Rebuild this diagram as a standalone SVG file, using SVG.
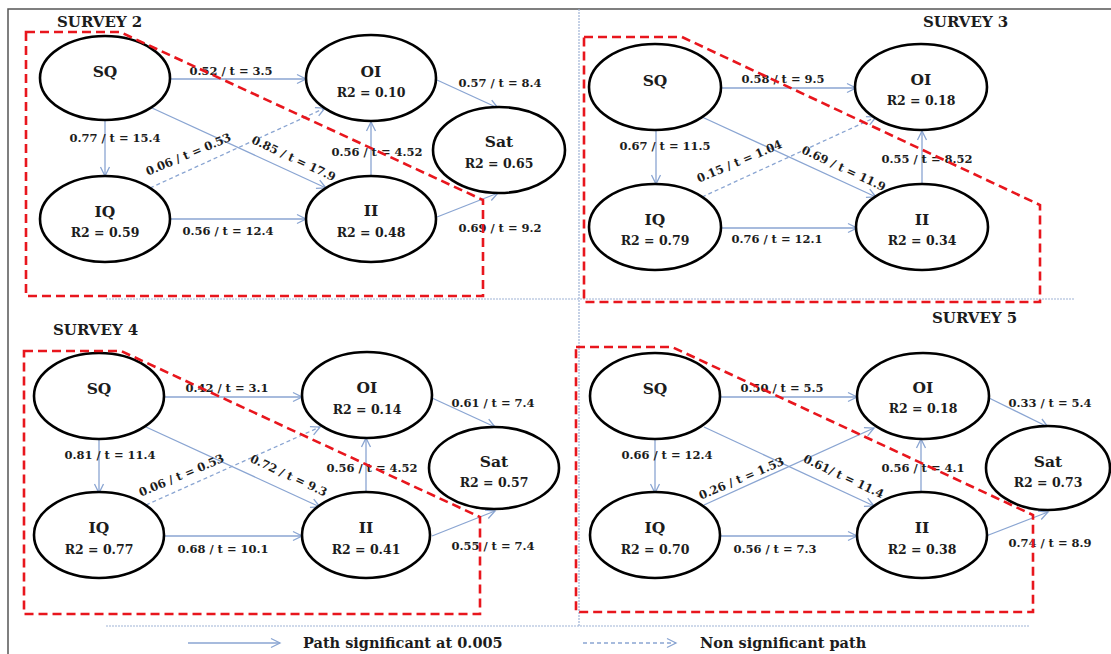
<svg xmlns="http://www.w3.org/2000/svg" width="1111" height="654" viewBox="0 0 1111 654">
  <defs>
    <marker id="arr" markerUnits="userSpaceOnUse" markerWidth="12" markerHeight="12" refX="10" refY="5" orient="auto" overflow="visible">
      <path d="M1,0.5 L10,5 L1,9.5" fill="none" stroke="#8aa5d2" stroke-width="1.3"/>
    </marker>
  </defs>
  <style>
    .frame { stroke: #555; stroke-width: 1.5; fill: none; }
    .div { stroke: #9fb3d6; stroke-width: 1.2; stroke-dasharray: 2 1; fill: none; }
    .node ellipse { fill: #fff; stroke: #000; stroke-width: 2.6; }
    .nm { font-family: "DejaVu Serif", serif; font-weight: bold; font-size: 15.5px; text-anchor: middle; fill: #1c1c1c; }
    .r2 { font-family: "DejaVu Serif", serif; font-weight: bold; font-size: 12.5px; text-anchor: middle; fill: #1c1c1c; }
    .lb { font-family: "DejaVu Serif", serif; font-weight: bold; font-size: 11.5px; text-anchor: middle; fill: #1c1c1c; }
    .title { font-family: "DejaVu Serif", serif; font-weight: bold; font-size: 15px; fill: #1c1c1c; }
    .leg { font-family: "DejaVu Serif", serif; font-weight: bold; font-size: 14.5px; fill: #1c1c1c; }
    .edge { stroke: #8aa5d2; stroke-width: 1.3; fill: none; marker-end: url(#arr); }
    .ns { stroke-dasharray: 4 3; }
    .box { fill: none; stroke: #e8161d; stroke-width: 2.6; stroke-dasharray: 9 5; }
  </style>

  <rect width="1111" height="654" fill="#fff"/>

  <!-- outer frame and quadrant dividers -->
  <g id="frame">
    <path class="frame" d="M8,654 V9 H1111"/>
    <path class="div" d="M579,9 V626"/>
    <path class="div" d="M106,299 H1075"/>
    <path class="div" d="M106,626 H1029"/>
  </g>

  <!-- survey titles -->
  <g id="titles">
    <text class="title" x="57" y="27">SURVEY 2</text>
    <text class="title" x="923" y="27">SURVEY 3</text>
    <text class="title" x="53" y="335">SURVEY 4</text>
    <text class="title" x="932" y="323">SURVEY 5</text>
  </g>

  <!-- path connectors -->
  <g id="connectors">
    <!-- survey 2 -->
    <path class="edge" d="M170,79 H306"/>
    <path class="edge" d="M105,120 V176"/>
    <path class="edge" d="M152,108 L326,188"/>
    <path class="edge ns" d="M150,188 L325,108"/>
    <path class="edge" d="M170,219 H306"/>
    <path class="edge" d="M371,176 V122"/>
    <path class="edge" d="M437,80 L498,108"/>
    <path class="edge" d="M437,217 L498,193"/>
    <!-- survey 3 -->
    <path class="edge" d="M721,88 H856"/>
    <path class="edge" d="M656,129 V184"/>
    <path class="edge" d="M702,117 L876,197"/>
    <path class="edge ns" d="M702,197 L876,117"/>
    <path class="edge" d="M721,228 H857"/>
    <path class="edge" d="M922,183 V131"/>
    <!-- survey 4 -->
    <path class="edge" d="M165,397 H302"/>
    <path class="edge" d="M99,438 V493"/>
    <path class="edge" d="M146,427 L320,507"/>
    <path class="edge ns" d="M146,505 L320,427"/>
    <path class="edge" d="M165,536 H302"/>
    <path class="edge" d="M366,493 V438"/>
    <path class="edge" d="M432,398 L495,427"/>
    <path class="edge" d="M432,536 L495,511"/>
    <!-- survey 5 -->
    <path class="edge" d="M721,397 H857"/>
    <path class="edge" d="M655,438 V493"/>
    <path class="edge" d="M704,427 L874,506"/>
    <path class="edge" d="M704,505 L874,428"/>
    <path class="edge" d="M721,536 H857"/>
    <path class="edge" d="M921,493 V439"/>
    <path class="edge" d="M987,397 L1048,427"/>
    <path class="edge" d="M986,536 L1048,512"/>
    <!-- legend -->
    <path class="edge" d="M188,643 H280"/>
    <path class="edge ns" d="M583,643 H676"/>
  </g>

  <!-- path coefficients -->
  <g id="labels">
    <text class="lb" x="231" y="75">0.52 / t = 3.5</text>
    <text class="lb" x="115" y="142">0.77 / t = 15.4</text>
    <text class="lb" transform="translate(292,162) rotate(25)">0.85 / t = 17.9</text>
    <text class="lb" transform="translate(190,158) rotate(-23)">0.06 / t = 0.53</text>
    <text class="lb" x="228" y="235">0.56 / t = 12.4</text>
    <text class="lb" x="377" y="156">0.56 / t = 4.52</text>
    <text class="lb" x="500" y="87">0.57 / t = 8.4</text>
    <text class="lb" x="500" y="232">0.69 / t = 9.2</text>

    <text class="lb" x="783" y="83">0.58 / t = 9.5</text>
    <text class="lb" x="665" y="150">0.67 / t = 11.5</text>
    <text class="lb" transform="translate(842,172) rotate(25)">0.69 / t = 11.9</text>
    <text class="lb" transform="translate(741,165) rotate(-23)">0.15 / t = 1.04</text>
    <text class="lb" x="777" y="243">0.76 / t = 12.1</text>
    <text class="lb" x="927" y="163">0.55 / t = 8.52</text>

    <text class="lb" x="227" y="392">0.42 / t = 3.1</text>
    <text class="lb" x="110" y="459">0.81 / t = 11.4</text>
    <text class="lb" transform="translate(287,479) rotate(25)">0.72 / t = 9.3</text>
    <text class="lb" transform="translate(183,479) rotate(-23)">0.06 / t = 0.53</text>
    <text class="lb" x="223" y="553">0.68 / t = 10.1</text>
    <text class="lb" x="372" y="472">0.56 / t = 4.52</text>
    <text class="lb" x="493" y="407">0.61 / t = 7.4</text>
    <text class="lb" x="493" y="550">0.55 / t = 7.4</text>

    <text class="lb" x="782" y="392">0.50 / t = 5.5</text>
    <text class="lb" x="667" y="459">0.66 / t = 12.4</text>
    <text class="lb" transform="translate(842,480) rotate(25)">0.61/ t = 11.4</text>
    <text class="lb" transform="translate(743,482) rotate(-23)">0.26 / t = 1.53</text>
    <text class="lb" x="775" y="553">0.56 / t = 7.3</text>
    <text class="lb" x="923" y="472">0.56 / t = 4.1</text>
    <text class="lb" x="1050" y="407">0.33 / t = 5.4</text>
    <text class="lb" x="1050" y="547">0.74 / t = 8.9</text>
  </g>

  <!-- survey 2 nodes -->
  <g id="s2-sq" class="node"><ellipse cx="105" cy="78" rx="65" ry="42"/><text class="nm" x="105" y="77">SQ</text></g>
  <g id="s2-oi" class="node"><ellipse cx="371" cy="78" rx="65" ry="43"/><text class="nm" x="371" y="77">OI</text><text class="r2" x="371" y="97">R2 = 0.10</text></g>
  <g id="s2-sat" class="node"><ellipse cx="499" cy="150" rx="66" ry="43"/><text class="nm" x="499" y="147">Sat</text><text class="r2" x="499" y="168">R2 = 0.65</text></g>
  <g id="s2-iq" class="node"><ellipse cx="105" cy="219" rx="65" ry="43"/><text class="nm" x="105" y="217">IQ</text><text class="r2" x="105" y="237">R2 = 0.59</text></g>
  <g id="s2-ii" class="node"><ellipse cx="371" cy="219" rx="65" ry="43"/><text class="nm" x="371" y="216">II</text><text class="r2" x="371" y="237">R2 = 0.48</text></g>

  <!-- survey 3 nodes -->
  <g id="s3-sq" class="node"><ellipse cx="655" cy="87" rx="66" ry="43"/><text class="nm" x="655" y="86">SQ</text></g>
  <g id="s3-oi" class="node"><ellipse cx="921" cy="87" rx="66" ry="43"/><text class="nm" x="921" y="85">OI</text><text class="r2" x="921" y="105">R2 = 0.18</text></g>
  <g id="s3-iq" class="node"><ellipse cx="655" cy="227" rx="66" ry="43"/><text class="nm" x="655" y="225">IQ</text><text class="r2" x="655" y="245">R2 = 0.79</text></g>
  <g id="s3-ii" class="node"><ellipse cx="922" cy="227" rx="66" ry="43"/><text class="nm" x="922" y="225">II</text><text class="r2" x="922" y="245">R2 = 0.34</text></g>

  <!-- survey 4 nodes -->
  <g id="s4-sq" class="node"><ellipse cx="99" cy="396" rx="65" ry="43"/><text class="nm" x="99" y="394">SQ</text></g>
  <g id="s4-oi" class="node"><ellipse cx="367" cy="395" rx="65" ry="43"/><text class="nm" x="367" y="393">OI</text><text class="r2" x="367" y="414">R2 = 0.14</text></g>
  <g id="s4-sat" class="node"><ellipse cx="494" cy="468" rx="65" ry="41"/><text class="nm" x="494" y="467">Sat</text><text class="r2" x="494" y="487">R2 = 0.57</text></g>
  <g id="s4-iq" class="node"><ellipse cx="99" cy="535" rx="65" ry="43"/><text class="nm" x="99" y="533">IQ</text><text class="r2" x="99" y="554">R2 = 0.77</text></g>
  <g id="s4-ii" class="node"><ellipse cx="366" cy="535" rx="64" ry="43"/><text class="nm" x="366" y="533">II</text><text class="r2" x="366" y="554">R2 = 0.41</text></g>

  <!-- survey 5 nodes -->
  <g id="s5-sq" class="node"><ellipse cx="655" cy="396" rx="65" ry="43"/><text class="nm" x="655" y="394">SQ</text></g>
  <g id="s5-oi" class="node"><ellipse cx="923" cy="396" rx="66" ry="43"/><text class="nm" x="923" y="393">OI</text><text class="r2" x="923" y="413">R2 = 0.18</text></g>
  <g id="s5-sat" class="node"><ellipse cx="1048" cy="468" rx="62" ry="42"/><text class="nm" x="1048" y="467">Sat</text><text class="r2" x="1048" y="487">R2 = 0.73</text></g>
  <g id="s5-iq" class="node"><ellipse cx="655" cy="535" rx="65" ry="43"/><text class="nm" x="655" y="533">IQ</text><text class="r2" x="655" y="554">R2 = 0.70</text></g>
  <g id="s5-ii" class="node"><ellipse cx="922" cy="535" rx="65" ry="43"/><text class="nm" x="922" y="533">II</text><text class="r2" x="922" y="554">R2 = 0.38</text></g>

  <!-- dashed red outlines -->
  <g id="outlines">
    <path class="box" d="M26,32 H120 L483,200 V296 H26 Z"/>
    <path class="box" d="M584,37 H682 L1040,205 V302 H584 Z"/>
    <path class="box" d="M24,351 H121 L480,517 V614 H24 Z"/>
    <path class="box" d="M576,347 H672 L1033,515 V612 H576 Z"/>
  </g>

  <!-- legend -->
  <g id="legend">
    <text class="leg" x="303" y="648">Path significant at 0.005</text>
    <text class="leg" x="700" y="648">Non significant path</text>
  </g>
</svg>
